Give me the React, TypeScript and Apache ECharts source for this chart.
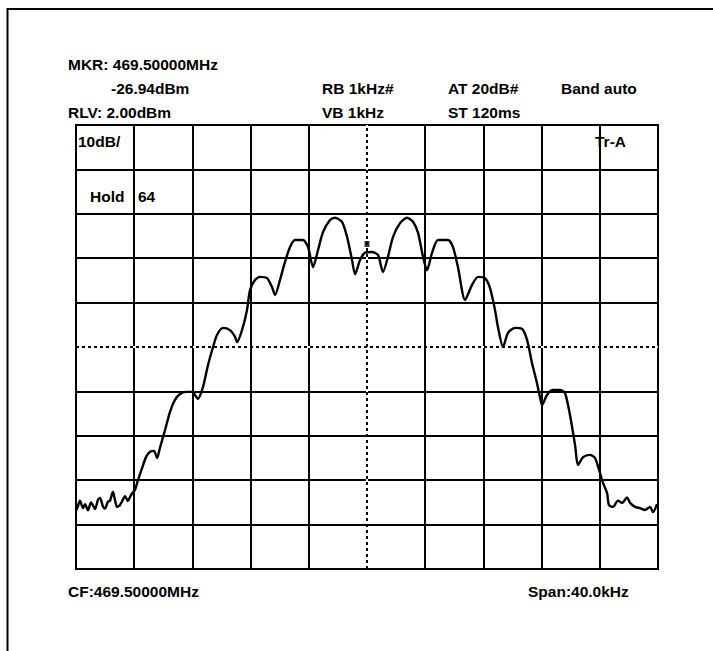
import React, { useEffect, useRef } from "react";
import * as echarts from "echarts";

// Frequency offset from centre (kHz) and measured level (dBm) of the trace
const freqOffsetKHz = [
  -20.0, -19.86, -19.73, -19.52, -19.38, -19.18, -18.97, -18.69, -18.49, -18.35,
  -18.14, -18.01, -17.8, -17.66, -17.46, -17.32, -17.18, -16.98, -16.84, -16.63,
  -16.43, -16.29, -16.15, -15.95, -15.74, -15.46, -15.19, -14.91, -14.64, -14.43,
  -14.23, -13.88, -13.54, -13.2, -12.85, -12.44, -12.03, -11.82, -11.62, -11.27,
  -10.93, -10.58, -10.31, -9.9, -9.42, -9.07, -8.93, -8.59, -8.25, -8.04,
  -7.7, -7.35, -6.87, -6.53, -6.32, -5.98, -5.64, -5.29, -4.95, -4.4,
  -4.05, -3.71, -3.37, -3.02, -2.54, -2.2, -1.72, -1.37, -1.03, -0.82,
  -0.48, -0.14, 0.34, 0.76, 1.1, 1.44, 1.79, 2.27, 2.75, 3.16,
  3.51, 3.85, 4.12, 4.47, 4.88, 5.57, 5.91, 6.25, 6.74, 7.22,
  7.63, 8.11, 8.45, 8.8, 9.0, 9.35, 9.69, 10.17, 10.65, 11.0,
  11.34, 11.68, 11.89, 12.03, 12.37, 12.78, 13.26, 13.61, 13.95, 14.3,
  14.5, 14.85, 15.33, 15.67, 15.95, 16.22, 16.5, 16.63, 16.91, 17.25,
  17.53, 17.87, 18.08, 18.42, 18.76, 19.11, 19.45, 19.66, 19.93,
];
const levelDbm = [
  -84.9, -83.8, -82.6, -84.3, -83.4, -84.8, -83.0, -84.5, -82.4, -82.0,
  -84.0, -84.4, -82.8, -82.6, -80.6, -82.5, -84.0, -83.6, -82.8, -81.6,
  -82.7, -81.8, -81.0, -80.2, -78.0, -75.3, -72.8, -71.6, -71.4, -73.0,
  -70.7, -66.7, -62.6, -59.9, -58.6, -58.1, -58.1, -58.8, -59.7, -57.0,
  -52.1, -48.0, -45.3, -43.7, -44.2, -45.7, -46.9, -44.2, -39.7, -35.2,
  -32.9, -32.2, -32.5, -34.5, -36.3, -32.9, -28.9, -25.5, -23.9, -23.9,
  -25.5, -30.0, -26.2, -22.1, -19.4, -18.9, -19.8, -23.2, -28.4, -31.6,
  -28.4, -26.8, -26.6, -27.3, -31.1, -27.7, -23.2, -20.1, -18.9, -19.8,
  -22.3, -27.7, -30.7, -26.8, -23.9, -23.9, -25.5, -30.0, -37.4, -34.0,
  -32.2, -32.5, -34.7, -39.7, -43.5, -48.0, -44.8, -43.7, -43.9, -46.4,
  -51.6, -56.1, -59.3, -61.1, -58.8, -57.7, -57.7, -58.4, -63.3, -70.1,
  -74.6, -72.8, -72.3, -73.0, -75.7, -78.6, -80.9, -83.6, -84.0, -82.6,
  -83.1, -81.9, -83.1, -84.0, -84.3, -84.7, -84.0, -85.2, -83.4,
];

const spanKHz = [-20, 20];
const refLevelDbm = 2;
const dbPerDiv = 10;
const divisions = 10;
const markerPoint = [0, -24.8];

const headerLines = [
  "MKR: 469.50000MHz",
  "-26.94dBm",
  "RB 1kHz#",
  "AT 20dB#",
  "Band auto",
  "RLV: 2.00dBm",
  "VB 1kHz",
  "ST 120ms",
];
const screenLabels = ["10dB/", "Tr-A", "Hold", "64"];
const footerLabels = ["CF:469.50000MHz", "Span:40.0kHz"];

const FONT = 'bold 15.5px "Liberation Sans", Arial, Helvetica, sans-serif';

export default function App() {
  const ref = useRef<HTMLDivElement>(null);

  useEffect(() => {
    if (!ref.current) return;
    const chart = echarts.init(ref.current, null, { renderer: "svg" });

    const bottomDb = refLevelDbm - dbPerDiv * divisions;
    const centreDb = refLevelDbm - (dbPerDiv * divisions) / 2;
    const trace = freqOffsetKHz.map((f, i) => [f, levelDbm[i]]);

    const textPos: [number, number][] = [
      [68, 64],
      [111, 88],
      [322, 88],
      [448, 88],
      [561, 88],
      [68, 112],
      [322, 112],
      [448, 112],
    ];
    const screenPos: [number, number][] = [
      [78, 141],
      [595, 141],
      [90, 196],
      [138, 196],
    ];
    const footerPos: [number, number][] = [
      [68, 591],
      [528, 591],
    ];
    const mkText = (t: string, p: [number, number]) => ({
      type: "text",
      x: p[0],
      y: p[1],
      z: 100,
      style: {
        text: t,
        font: FONT,
        fill: "#000",
        textAlign: "left",
        textVerticalAlign: "middle",
      },
    });

    const dotted = { color: "#000", width: 2, type: [3, 3] as any };
    const white = { color: "#fff", width: 2, type: "solid" as any };

    chart.setOption({
      animation: false,
      backgroundColor: "#fff",
      grid: {
        left: 76,
        top: 125,
        width: 582,
        height: 444,
        show: true,
        borderColor: "#000",
        borderWidth: 2,
        backgroundColor: "transparent",
      },
      xAxis: {
        type: "value",
        min: spanKHz[0],
        max: spanKHz[1],
        interval: (spanKHz[1] - spanKHz[0]) / divisions,
        axisLabel: { show: false },
        axisTick: { show: false },
        axisLine: { show: false },
        splitLine: { show: true, lineStyle: { color: "#000", width: 2 } },
      },
      yAxis: [
        {
          type: "value",
          min: bottomDb,
          max: refLevelDbm,
          axisLabel: { show: false },
          axisTick: { show: false },
          axisLine: { show: false },
          splitLine: { show: false },
        },
        {
          type: "value",
          min: 0,
          max: divisions,
          interval: 1,
          axisLabel: { show: false },
          axisTick: { show: false },
          axisLine: { show: false },
          splitLine: { show: true, lineStyle: { color: "#000", width: 2 } },
        },
      ],
      series: [
        {
          type: "line",
          data: [],
          markLine: {
            silent: true,
            symbol: "none",
            label: { show: false },
            data: [
              { xAxis: 0, lineStyle: white },
              { yAxis: centreDb, lineStyle: white },
              { xAxis: 0, lineStyle: dotted },
              { yAxis: centreDb, lineStyle: dotted },
            ],
          },
        },
        {
          type: "line",
          data: trace,
          showSymbol: false,
          smooth: 0.25,
          lineStyle: { color: "#000", width: 2.4 },
          z: 5,
        },
        {
          type: "scatter",
          data: [markerPoint],
          symbol: "rect",
          symbolSize: [5, 6],
          itemStyle: { color: "#000" },
          z: 6,
        },
      ],
      graphic: [
        {
          type: "rect",
          shape: { x: 7.5, y: 9, width: 900, height: 900 },
          style: { fill: "none", stroke: "#000", lineWidth: 2 },
          z: 100,
        },
        ...headerLines.map((t, i) => mkText(t, textPos[i])),
        ...screenLabels.map((t, i) => mkText(t, screenPos[i])),
        ...footerLabels.map((t, i) => mkText(t, footerPos[i])),
      ],
    });

    return () => chart.dispose();
  }, []);

  return (
    <div
      ref={ref}
      style={{
        position: "fixed",
        left: 0,
        top: 0,
        width: 713,
        height: 651,
        background: "#fff",
      }}
    />
  );
}
